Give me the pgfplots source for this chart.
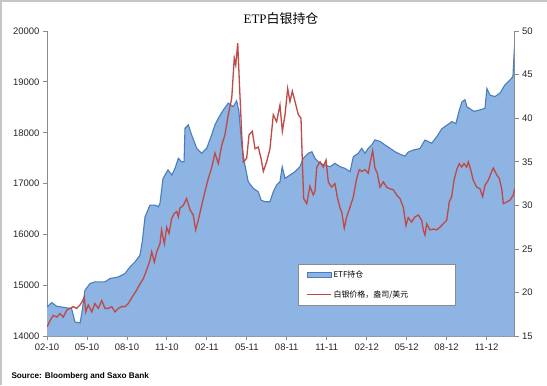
\documentclass[border=0pt]{standalone}
\usepackage{pgfplots}
\pgfplotsset{compat=1.18}
\usepackage{pgfplotstable}
\usepackage{fontspec}
\setmainfont{Liberation Sans}
\newfontfamily\cjk{Noto Sans CJK SC}
\newfontfamily\serifl{Liberation Serif}
\definecolor{etffill}{RGB}{141,180,226}
\definecolor{etfline}{RGB}{74,126,187}
\definecolor{pricered}{RGB}{192,72,70}
\definecolor{axgray}{RGB}{140,140,140}
\pgfplotsset{
  rectleg/.style={legend image code/.code={\draw[##1] (0bp,-2.5bp) rectangle (24bp,2.5bp);}},
  lineleg/.style={legend image code/.code={\draw[##1] (0bp,0bp) -- (24bp,0bp);}},
}

\pgfplotstableread{
m v
0 14577
0.35 14663
0.73 14590
1.48 14560
1.85 14545
1.97 14413
2.1 14282
2.48 14262
2.61 14447
2.85 14905
3.23 15037
3.6 15069
4.35 15069
4.73 15135
5.35 15167
5.86 15234
6.23 15364
6.61 15463
6.98 15594
7.15 15856
7.36 16348
7.73 16579
8.11 16579
8.36 16545
8.48 16611
8.71 17100
9.08 17270
9.38 17170
9.61 17301
9.86 17498
10.11 17431
10.29 17431
10.36 18089
10.61 18154
10.86 17957
11.24 17695
11.61 17597
11.99 17695
12.36 17957
12.61 18154
12.86 18285
13.24 18449
13.61 18581
13.99 18514
14.24 18630
14.41 18415
14.62 17760
14.86 17366
15.11 17037
15.49 16907
15.86 16841
16.07 16677
16.37 16644
16.74 16644
16.99 16841
17.24 16972
17.49 17037
17.66 17333
17.87 17104
18.24 17169
18.62 17234
18.99 17333
19.24 17498
19.62 17597
19.89 17628
20.12 17498
20.5 17399
20.87 17366
21.25 17333
21.62 17399
22.0 17333
22.37 17301
22.75 17234
23.0 17530
23.37 17597
23.63 17695
23.87 17597
24.12 17695
24.38 17760
24.62 17860
25.0 17830
25.38 17760
25.75 17695
26.13 17628
26.5 17580
26.88 17540
27.12 17620
27.5 17661
28.0 17690
28.38 17858
28.88 17793
29.26 17923
29.65 18080
30.03 18150
30.4 18220
30.7 18180
30.93 18420
31.16 18610
31.38 18650
31.53 18510
32.06 18420
32.5 18450
32.88 18480
33.03 18870
33.26 18740
33.63 18710
34.01 18780
34.38 18940
34.76 19040
34.98 19100
35.1 19720
}\etf

\pgfplotstableread{
m p
0 16.07
0.23 16.8
0.47 17.4
0.73 17.2
0.98 17.6
1.22 17.2
1.48 18.0
1.73 18.2
1.97 18.4
2.23 18.2
2.48 18.6
2.61 18.9
2.8 19.5
2.91 17.8
3.1 18.6
3.36 17.8
3.6 18.75
3.85 18.2
4.11 19.1
4.35 18.2
4.6 18.2
4.86 18.4
5.11 17.8
5.35 18.2
5.61 18.4
5.86 18.4
6.1 18.75
6.23 19.1
6.48 19.7
6.73 20.3
6.98 21.0
7.23 21.6
7.48 22.6
7.73 23.7
7.86 24.7
8.06 23.5
8.24 24.7
8.48 25.6
8.6 27.2
8.81 25.6
8.99 27.5
9.16 26.8
9.36 28.5
9.56 29.1
9.74 29.3
9.86 28.7
9.98 29.7
10.23 30.0
10.48 30.8
10.74 29.5
10.98 28.9
11.16 27.2
11.36 28.3
11.61 30.0
11.86 31.6
12.11 33.1
12.36 34.3
12.61 36.0
12.86 34.8
13.12 36.9
13.36 38.1
13.61 40.4
13.87 42.3
14.06 46.9
14.17 46.1
14.32 48.6
14.44 44.2
14.62 38.1
14.74 35.0
14.99 35.4
15.17 38.1
15.41 38.5
15.62 36.5
15.86 36.7
16.07 35.4
16.24 33.9
16.49 35.0
16.74 36.5
16.99 40.4
17.24 39.6
17.49 41.5
17.67 38.5
17.87 40.4
18.07 43.4
18.24 41.9
18.42 43.1
18.62 41.9
18.87 40.4
19.07 40.0
19.17 35.0
19.27 30.8
19.5 30.2
19.74 32.2
19.99 31.2
20.12 31.6
20.25 34.4
20.5 35.0
20.74 34.4
20.95 35.2
21.12 32.7
21.37 32.1
21.62 32.5
21.79 31.0
22.0 29.7
22.12 29.3
22.32 27.4
22.5 28.7
22.75 29.8
23.0 31.0
23.25 33.1
23.45 34.1
23.63 33.9
23.87 34.1
24.12 33.7
24.3 35.2
24.45 36.3
24.62 34.3
24.8 33.7
25.0 32.1
25.25 32.7
25.5 32.1
25.75 31.9
26.0 31.8
26.25 31.2
26.5 30.8
26.75 29.8
26.95 27.7
27.12 28.6
27.37 28.1
27.63 28.7
27.88 28.9
28.13 28.3
28.25 27.2
28.38 26.6
28.51 27.9
28.75 27.2
29.0 27.3
29.26 27.2
29.5 27.5
29.75 27.9
30.01 28.3
30.2 30.4
30.38 31.0
30.56 32.9
30.76 34.1
30.95 34.8
31.13 34.4
31.31 34.8
31.51 34.4
31.63 35.0
31.81 34.1
32.0 32.9
32.26 32.1
32.51 31.9
32.71 31.0
32.88 32.3
33.13 32.9
33.39 33.9
33.51 34.3
33.76 33.5
33.96 33.1
34.14 31.9
34.26 30.2
34.52 30.4
34.76 30.6
35.01 31.2
35.1 31.9
}\price

\begin{document}
\begin{tikzpicture}[x=1bp,y=1bp]
\useasboundingbox (0,0) rectangle (547,385);
\fill[white] (0,0) rectangle (547,385);
\draw[gray!45, line width=1.2bp] (1,0) -- (1,384) -- (547,384);
\pgfplotsset{
  base/.style={
    scale only axis, width=467.5bp, height=305.3bp,
    at={(47bp,48.7bp)}, anchor=south west,
    xmin=0, xmax=35.1,
    axis line style={axgray, line width=0.8bp},
    tick style={axgray, line width=0.8bp},
    major tick length=4bp,
    tick align=outside,
    ticklabel style={font=\fontsize{9.5}{11}\selectfont, text=black!85},
    /pgf/number format/assume math mode=true,
    /pgf/number format/set thousands separator={},
    scaled y ticks=false,
  },
}
\begin{axis}[base,
  ymin=14000, ymax=20000, ytick={14000,15000,...,20000},
  axis y line*=left, axis x line*=bottom,
  xtick={0,3,...,33},
  xticklabels={02-10,05-10,08-10,11-10,02-11,05-11,08-11,11-11,02-12,05-12,08-12,11-12},
]
\addplot[fill=etffill, draw=none] table[x=m,y=v]{\etf} \closedcycle;
\addplot[etfline, line width=1.1bp] table[x=m,y=v]{\etf};
\end{axis}
\begin{axis}[base,
  ymin=15, ymax=50, ytick={15,20,...,50},
  axis y line*=right, axis x line=none,
  legend cell align=left,
  legend style={at={(0.537,0.236)}, anchor=north west, draw=axgray, fill=white,
    font=\fontsize{8}{9}\selectfont, row sep=8bp, inner xsep=8bp, inner ysep=4bp},
]
\addlegendimage{rectleg, fill=etffill, draw=etfline, line width=0.8bp}
\addlegendentry{\makebox[112bp][l]{\cjk ETF持仓}}
\addplot[pricered, line width=1.3bp, lineleg] table[x=m,y=p]{\price};
\addlegendentry{\makebox[112bp][l]{\cjk 白银价格，盎司/美元}}
\end{axis}
\node at (281,366.5) {\fontsize{13}{15}\selectfont{\serifl ETP}{\cjk 白银持仓}};
\node[anchor=west] at (8,9) {\bfseries\fontsize{8.2}{9}\selectfont Source: Bloomberg and Saxo Bank};
\end{tikzpicture}
\end{document}
